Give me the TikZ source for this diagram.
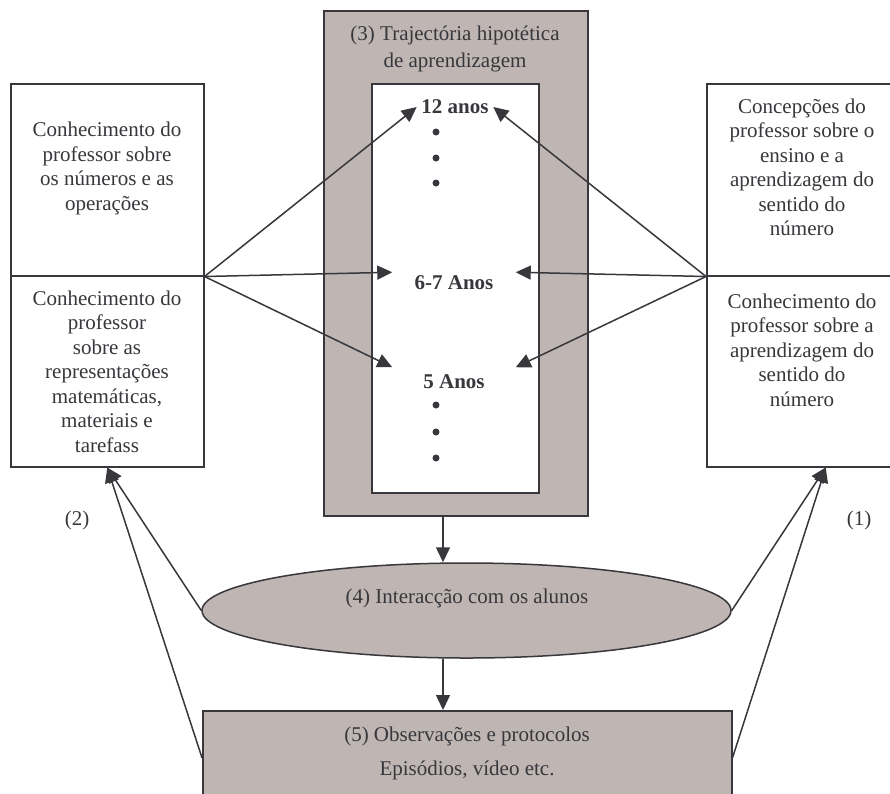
\documentclass[tikz,border=0pt]{standalone}
\usepackage{fontspec}
\setmainfont{Liberation Serif}
\usetikzlibrary{arrows.meta,shapes.geometric}
\definecolor{ink}{RGB}{55,55,60}
\definecolor{shade}{RGB}{191,181,179}

\begin{document}
\begin{tikzpicture}[x=1pt,y=-1pt,line width=1.5pt,
  box/.style={draw=ink,fill=white,inner sep=0pt,anchor=north west},
  txt/.style={text=ink,align=center,inner sep=0pt,font=\fontsize{21}{24.5}\selectfont},
  age/.style={text=ink,inner sep=0pt,font=\fontsize{21}{24}\selectfont\bfseries},
  link/.style={draw=ink,line width=1.5pt,-{Triangle[length=15pt,width=14pt]}}]
\path[use as bounding box] (0,0) rectangle (890,793);
\node[box,fill=shade,minimum width=264,minimum height=505] (traj) at (323,10) {};
\node[txt,font=\fontsize{21}{27}\selectfont] (trajt) at (455,48.5) {(3) Trajectória hipotética\\de aprendizagem};
\node[box,minimum width=167,minimum height=409] (anos) at (371,83) {};
\node[age,inner xsep=4pt] (a12) at (455,107) {12 anos};
\node[age,minimum width=122,minimum height=20] (a67) at (454,283) {6-7 Anos};
\node[age,minimum width=122,minimum height=28] (a5) at (454,382) {5 Anos};
\foreach \y in {132,158,183,405,432,458} \fill[ink] (436,\y) circle (3.5pt);
\node[box,minimum width=193,minimum height=192] (lk1) at (10,83) {};
\node[box,minimum width=193,minimum height=191] (lk2) at (10,275) {};
\node[txt] (lk1t) at (107,168.5) {Conhecimento do\\professor sobre\\os números e as\\operações};
\node[txt] (lk2t) at (107,371.5) {Conhecimento do\\professor\\sobre as\\representações\\matemáticas,\\materiais e\\tarefass};
\node[box,minimum width=192,minimum height=192] (rc1) at (706,83) {};
\node[box,minimum width=192,minimum height=191] (rc2) at (706,275) {};
\node[txt] (rc1t) at (802,167.5) {Concepções do\\professor sobre o\\ensino e a\\aprendizagem do\\sentido do\\número};
\node[txt] (rc2t) at (802,350) {Conhecimento do\\professor sobre a\\aprendizagem do\\sentido do\\número};
\node[ellipse,draw=ink,fill=shade,inner sep=0pt,minimum width=529,minimum height=95] (inter) at (466.5,610.5) {};
\node[txt] (intert) at (467,598) {(4) Interacção com os alunos};
\node[box,fill=shade,minimum width=529,minimum height=94] (obs) at (202,710) {};
\node[txt] (obs1) at (467,736) {(5) Observações e protocolos};
\node[txt] (obs2) at (467,770) {Episódios, vídeo etc.};
\node[txt] (lab1) at (859,520) {(1)};
\node[txt] (lab2) at (77,520) {(2)};
\coordinate (mid) at (443,0);
\draw[link] (lk1.south east) -- (a12.west);
\draw[link] (lk1.south east) -- (a67.north west);
\draw[link] (lk1.south east) -- (a5.north west);
\draw[link] (rc1.south west) -- (a12.east);
\draw[link] (rc1.south west) -- (a67.north east);
\draw[link] (rc1.south west) -- (a5.north east);
\draw[link] (traj.south -| mid) -- (inter.north -| mid);
\draw[link] (inter.south -| mid) -- (obs.north -| mid);
\draw[link] (inter.west) -- (lk2.south);
\draw[link] (obs.west) -- (lk2.south);
\draw[link] (inter.east) -- ([xshift=23pt]rc2.south);
\draw[link] (obs.east) -- ([xshift=23pt]rc2.south);
\end{tikzpicture}
\end{document}
